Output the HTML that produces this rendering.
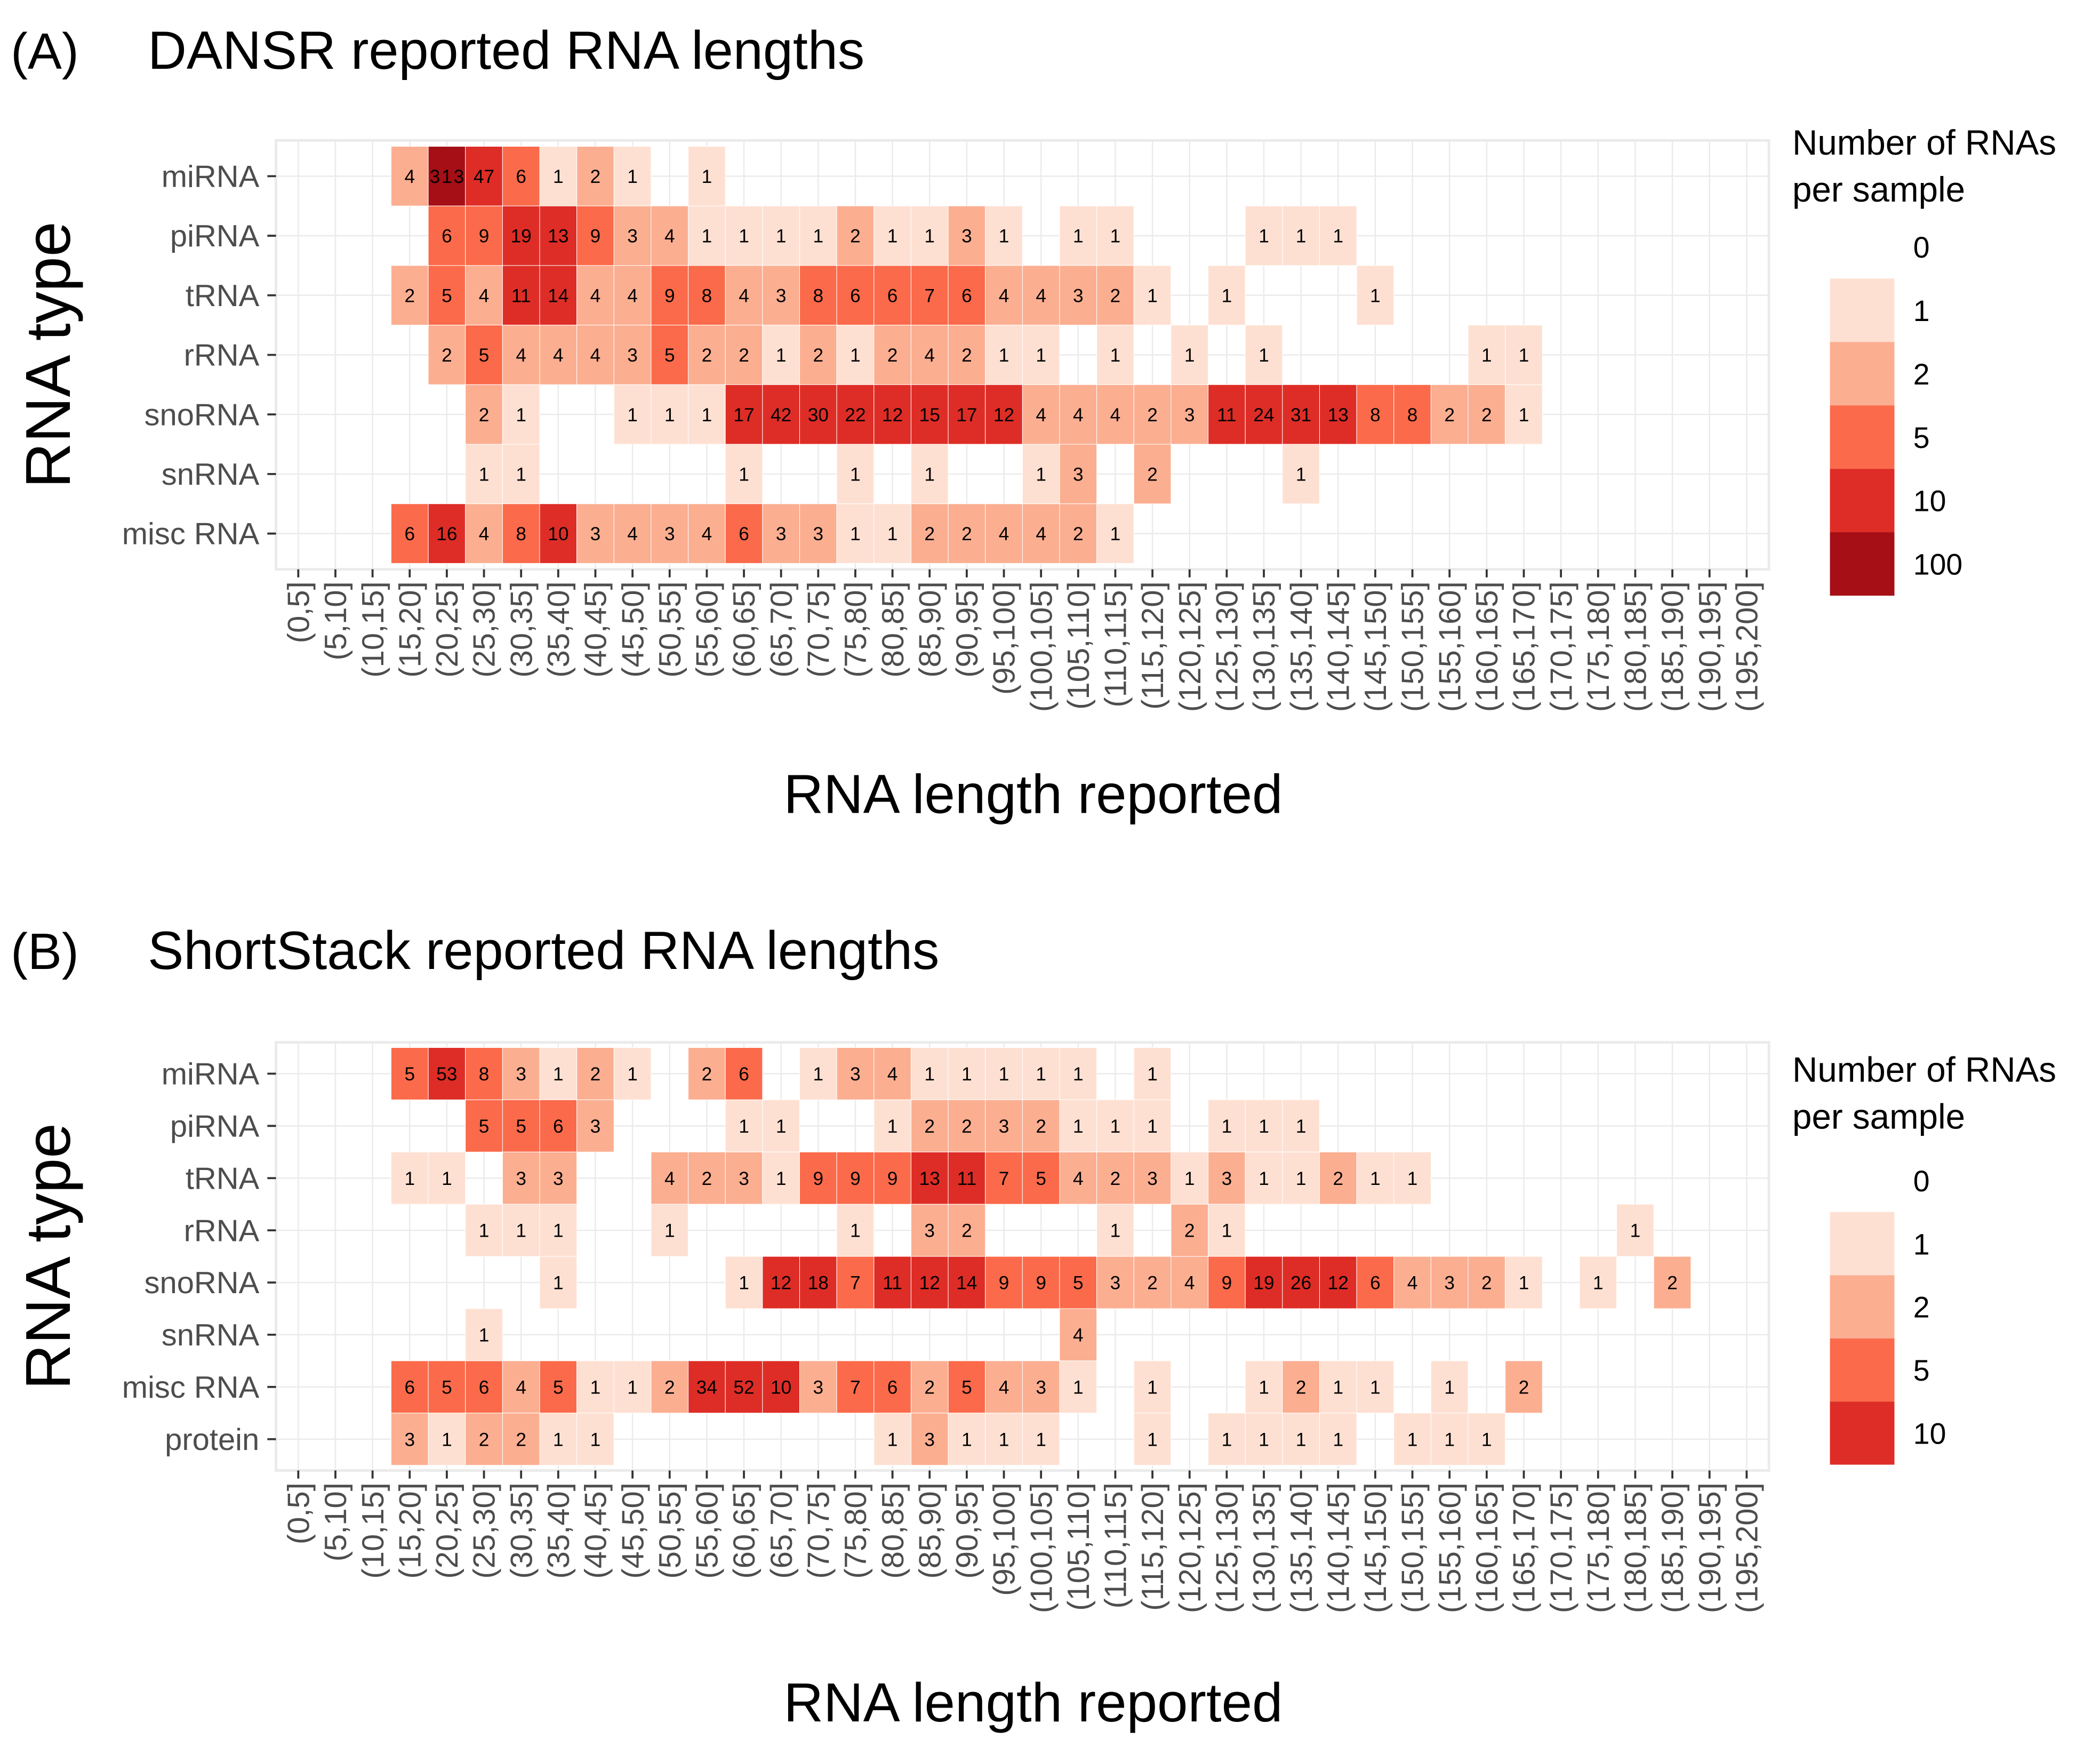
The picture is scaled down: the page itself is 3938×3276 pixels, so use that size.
<!DOCTYPE html>
<html><head><meta charset="utf-8">
<style>
html,body{margin:0;padding:0;background:#fff;}
svg{display:block;font-family:"Liberation Sans",sans-serif;}
</style></head>
<body>
<svg id="chart" width="3938" height="3276" viewBox="0 0 1563 1300" xmlns="http://www.w3.org/2000/svg">
<rect width="1563" height="1300" fill="#fff"/>
<g id="pa"></g>
<g id="pb"></g>
</svg>
<script>
// ---- data ----
const categories = Array.from({length:40},(_, i)=>"("+(5*i)+","+(5*i+5)+"]");
const rowsA = ["miRNA","piRNA","tRNA","rRNA","snoRNA","snRNA","misc RNA"];
const rowsB = ["miRNA","piRNA","tRNA","rRNA","snoRNA","snRNA","misc RNA","protein"];
const aMiRNA = [[3,4],[4,313],[5,47],[6,6],[7,1],[8,2],[9,1],[11,1]];
const aPiRNA = [[4,6],[5,9],[6,19],[7,13],[8,9],[9,3],[10,4],[11,1],[12,1],[13,1],[14,1],[15,2],[16,1],[17,1],[18,3],[19,1],[21,1],[22,1],[26,1],[27,1],[28,1]];
const aTRNA = [[3,2],[4,5],[5,4],[6,11],[7,14],[8,4],[9,4],[10,9],[11,8],[12,4],[13,3],[14,8],[15,6],[16,6],[17,7],[18,6],[19,4],[20,4],[21,3],[22,2],[23,1],[25,1],[29,1]];
const aRRNA = [[4,2],[5,5],[6,4],[7,4],[8,4],[9,3],[10,5],[11,2],[12,2],[13,1],[14,2],[15,1],[16,2],[17,4],[18,2],[19,1],[20,1],[22,1],[24,1],[26,1],[32,1],[33,1]];
const aSnoRNA = [[5,2],[6,1],[9,1],[10,1],[11,1],[12,17],[13,42],[14,30],[15,22],[16,12],[17,15],[18,17],[19,12],[20,4],[21,4],[22,4],[23,2],[24,3],[25,11],[26,24],[27,31],[28,13],[29,8],[30,8],[31,2],[32,2],[33,1]];
const aSnRNA = [[5,1],[6,1],[12,1],[15,1],[17,1],[20,1],[21,3],[23,2],[27,1]];
const aMisc = [[3,6],[4,16],[5,4],[6,8],[7,10],[8,3],[9,4],[10,3],[11,4],[12,6],[13,3],[14,3],[15,1],[16,1],[17,2],[18,2],[19,4],[20,4],[21,2],[22,1]];
const bMiRNA = [[3,5],[4,53],[5,8],[6,3],[7,1],[8,2],[9,1],[11,2],[12,6],[14,1],[15,3],[16,4],[17,1],[18,1],[19,1],[20,1],[21,1],[23,1]];
const bPiRNA = [[5,5],[6,5],[7,6],[8,3],[12,1],[13,1],[16,1],[17,2],[18,2],[19,3],[20,2],[21,1],[22,1],[23,1],[25,1],[26,1],[27,1]];
const bTRNA = [[3,1],[4,1],[6,3],[7,3],[10,4],[11,2],[12,3],[13,1],[14,9],[15,9],[16,9],[17,13],[18,11],[19,7],[20,5],[21,4],[22,2],[23,3],[24,1],[25,3],[26,1],[27,1],[28,2],[29,1],[30,1]];
const bRRNA = [[5,1],[6,1],[7,1],[10,1],[15,1],[17,3],[18,2],[22,1],[24,2],[25,1],[36,1]];
const bSnoRNA = [[7,1],[12,1],[13,12],[14,18],[15,7],[16,11],[17,12],[18,14],[19,9],[20,9],[21,5],[22,3],[23,2],[24,4],[25,9],[26,19],[27,26],[28,12],[29,6],[30,4],[31,3],[32,2],[33,1],[35,1],[37,2]];
const bSnRNA = [[5,1],[21,4]];
const bMisc = [[3,6],[4,5],[5,6],[6,4],[7,5],[8,1],[9,1],[10,2],[11,34],[12,52],[13,10],[14,3],[15,7],[16,6],[17,2],[18,5],[19,4],[20,3],[21,1],[23,1],[26,1],[27,2],[28,1],[29,1],[31,1],[33,2]];
const bProtein = [[3,3],[4,1],[5,2],[6,2],[7,1],[8,1],[16,1],[17,3],[18,1],[19,1],[20,1],[23,1],[25,1],[26,1],[27,1],[28,1],[30,1],[31,1],[32,1]];
const seriesA = [aMiRNA,aPiRNA,aTRNA,aRRNA,aSnoRNA,aSnRNA,aMisc];
const seriesB = [bMiRNA,bPiRNA,bTRNA,bRRNA,bSnoRNA,bSnRNA,bMisc,bProtein];
const legendLabelsA = ["0","1","2","5","10","100"];
const legendLabelsB = ["0","1","2","5","10"];

const NS="http://www.w3.org/2000/svg";
function el(tag, attrs, parent, text){
  const e=document.createElementNS(NS,tag);
  for(const k in attrs) e.setAttribute(k,attrs[k]);
  if(text!==undefined) e.textContent=text;
  parent.appendChild(e); return e;
}
function colorFor(v){
  if(v>=100) return "#a50f15";
  if(v>=10) return "#de2d26";
  if(v>=5) return "#fb6a4a";
  if(v>=2) return "#fcae91";
  if(v>=1) return "#fee0d2";
  return "#ffffff";
}
const colW=(1300-222)/39;
function xPos(i){ return 222+i*colW; }

function drawPanel(g, rows, series, cfg){
  const rowH=(cfg.yLast-cfg.yFirst)/(rows.length-1);
  const yPos=j=>cfg.yFirst+j*rowH;
  const left=xPos(0)-0.6*colW, right=xPos(39)+0.6*colW;
  const top=yPos(0)-0.6*rowH, bottom=yPos(rows.length-1)+0.6*rowH;
  const t=el("text",{x:8,y:cfg.titleY,"font-size":38,fill:"#000"},g,cfg.letter);
  
  
  const t2=el("text",{x:110,y:cfg.titleY,"font-size":40,fill:"#000"},g,cfg.title);
  
  
  const bg=el("rect",{x:left,y:top,width:right-left,height:bottom-top,fill:"#fff",stroke:"#ebebeb","stroke-width":2},g);
  
  
  for(let i=0;i<40;i++) el("line",{x1:xPos(i),x2:xPos(i),y1:top,y2:bottom,stroke:"#ebebeb","stroke-width":1},g);
  for(let j=0;j<rows.length;j++) el("line",{x1:left,x2:right,y1:yPos(j),y2:yPos(j),stroke:"#ebebeb","stroke-width":1},g);
  series.forEach((s,j)=>{
    s.forEach(([i,v])=>{
      const r=el("rect",{x:xPos(i)-colW/2,y:yPos(j)-rowH/2,width:colW,height:rowH,fill:colorFor(v),stroke:"#fff","stroke-width":0.4},g);
      
      
      const tx=el("text",{x:xPos(i),y:yPos(j)+5,"font-size":14,"text-anchor":"middle",fill:"#000"},g,String(v));
      if(String(v).length>=3) tx.setAttribute("textLength",colW-2);
      
      
    });
  });
  rows.forEach((r,j)=>{
    const lb=el("text",{x:193,y:yPos(j)+8,"font-size":23,"text-anchor":"end",fill:"#4d4d4d"},g,r);
    
    
    el("line",{x1:199,x2:left,y1:yPos(j),y2:yPos(j),stroke:"#333","stroke-width":1.5},g);
  });
  categories.forEach((c,i)=>{
    el("line",{x1:xPos(i),x2:xPos(i),y1:bottom,y2:bottom+6,stroke:"#333","stroke-width":1.5},g);
    const lx=xPos(i)+8, ly=bottom+9;
    const lb=el("text",{x:lx,y:ly,"font-size":23,"text-anchor":"end",fill:"#4d4d4d",transform:"rotate(-90 "+lx+" "+ly+")"},g,c);
    
    
  });
  const xt=el("text",{x:769,y:cfg.xTitleY,"font-size":41,"text-anchor":"middle",fill:"#000"},g,"RNA length reported");
  
  
  const cy=(top+bottom)/2;
  const yt=el("text",{x:52,y:cy,"font-size":47,"text-anchor":"middle",fill:"#000",transform:"rotate(-90 52 "+cy+")"},g,"RNA type");
  
  
  const lt1=el("text",{x:1334,y:cfg.legY,"font-size":26,fill:"#000"},g,"Number of RNAs");
  
  
  el("text",{x:1334,y:cfg.legY+35,"font-size":26,fill:"#000"},g,"per sample");
  const cols=["#ffffff","#fee0d2","#fcae91","#fb6a4a","#de2d26","#a50f15"];
  cfg.labels.forEach((l,k)=>{
    const by=cfg.boxTop+k*cfg.boxH;
    const b=el("rect",{x:1362,y:by,width:48,height:cfg.boxH,fill:cols[k]},g);
    
    
    const lb=el("text",{x:1424,y:by+cfg.boxH/2+8,"font-size":22,fill:"#000"},g,l);
    
    
  });
}
drawPanel(document.getElementById("pa"),rowsA,seriesA,{letter:"(A)",title:"DANSR reported RNA lengths",titleY:51,yFirst:131,yLast:397,xTitleY:605,legY:115,labels:legendLabelsA,boxTop:160,boxH:47.2});
drawPanel(document.getElementById("pb"),rowsB,seriesB,{letter:"(B)",title:"ShortStack reported RNA lengths",titleY:721,yFirst:799,yLast:1071,xTitleY:1281,legY:805,labels:legendLabelsB,boxTop:855,boxH:47});
</script>
</body></html>
